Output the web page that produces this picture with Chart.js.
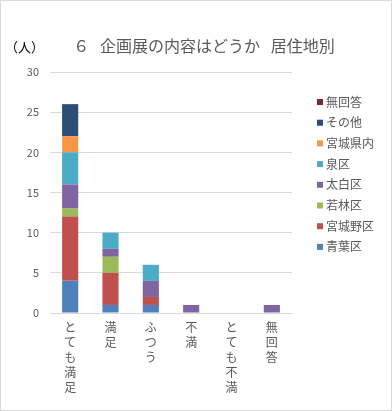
<!DOCTYPE html>
<html>
<head>
<meta charset="utf-8">
<script src="https://cdn.jsdelivr.net/npm/chart.js@4/dist/chart.umd.min.js"></script>
<style>
html,body{margin:0;padding:0;background:#fff;}
#wrap{width:392px;height:411px;position:relative;}
</style>
</head>
<body>
<div id="wrap"><canvas id="c" width="392" height="411"></canvas></div>
<script>
const titleText = '６   企画展の内容はどうか   居住地別';
const unitText = '（人）';
const categories = ['とても満足', '満足', 'ふつう', '不満', 'とても不満', '無回答'];
const seriesNames = ['青葉区', '宮城野区', '若林区', '太白区', '泉区', '宮城県内', 'その他', '無回答'];
const aoba      = [4, 1, 1, 0, 0, 0];
const miyagino  = [8, 4, 1, 0, 0, 0];
const wakabayashi = [1, 2, 0, 0, 0, 0];
const taihaku   = [3, 1, 2, 1, 0, 1];
const izumi     = [4, 2, 2, 0, 0, 0];
const kennai    = [2, 0, 0, 0, 0, 0];
const sonota    = [4, 0, 0, 0, 0, 0];
const mukaitou  = [0, 0, 0, 0, 0, 0];
const yTicks = [0, 5, 10, 15, 20, 25, 30];

const seriesValues = [aoba, miyagino, wakabayashi, taihaku, izumi, kennai, sonota, mukaitou];
const colors = ['#4f81bd', '#c0504d', '#9bbb59', '#8064a2', '#4bacc6', '#f79646', '#2c4d75', '#772c2a'];

const FONT = "'Noto Sans CJK JP', 'Noto Sans', sans-serif";
const TEXT = '#595959';

const extras = {
  id: 'extras',
  afterDraw(chart) {
    const ctx = chart.ctx;
    ctx.save();
    // border
    ctx.strokeStyle = '#d9d9d9';
    ctx.lineWidth = 1;
    ctx.strokeRect(0.5, 0.5, 391, 410);
    // title
    ctx.fillStyle = TEXT;
    ctx.font = '16px ' + FONT;
    ctx.textAlign = 'center';
    ctx.textBaseline = 'middle';
    ctx.fillText(titleText, 204, 46);
    // unit
    ctx.fillStyle = '#000';
    ctx.font = '13px ' + FONT;
    ctx.textAlign = 'left';
    ctx.fillText(unitText, 5, 47);
    // legend (reverse order)
    ctx.font = '12px ' + FONT;
    ctx.fillStyle = TEXT;
    const ds = chart.data.datasets;
    for (let i = ds.length - 1, k = 0; i >= 0; i--, k++) {
      const y = 102 + k * 20.7;
      ctx.fillStyle = ds[i].backgroundColor;
      ctx.fillRect(317, y - 3, 6, 6);
      ctx.fillStyle = TEXT;
      ctx.fillText(ds[i].label, 326, y);
    }
    ctx.restore();
  }
};

new Chart(document.getElementById('c'), {
  type: 'bar',
  data: {
    labels: categories.map(c => Array.from(c)),
    datasets: seriesNames.map((n, i) => ({
      label: n,
      data: seriesValues[i],
      backgroundColor: colors[i],
      borderWidth: 0,
      barPercentage: 0.4,
      categoryPercentage: 1.0
    }))
  },
  options: {
    responsive: false,
    animation: false,
    devicePixelRatio: 1,
    layout: { padding: { top: 72, left: 10, right: 100, bottom: 0 } },
    plugins: {
      legend: { display: false },
      title: { display: false },
      tooltip: { enabled: false }
    },
    scales: {
      x: {
        stacked: true,
        grid: { display: false, drawTicks: false },
        border: { display: true, color: '#d9d9d9', width: 1 },
        afterFit(scale) { scale.height = 98; },
        ticks: {
          autoSkip: false,
          maxRotation: 0,
          minRotation: 0,
          padding: 7,
          color: TEXT,
          font: { family: FONT, size: 12, lineHeight: 1.25 }
        }
      },
      y: {
        stacked: true,
        min: 0,
        max: 30,
        afterFit(scale) { scale.width = 40; },
        afterBuildTicks(scale) { scale.ticks = yTicks.map(v => ({ value: v })); },
        grid: { color: '#d9d9d9', drawTicks: false, lineWidth: 1 },
        border: { display: false },
        ticks: {
          padding: 11,
          color: TEXT,
          font: { family: FONT, size: 11 }
        }
      }
    }
  },
  plugins: [extras]
});
</script>
</body>
</html>
